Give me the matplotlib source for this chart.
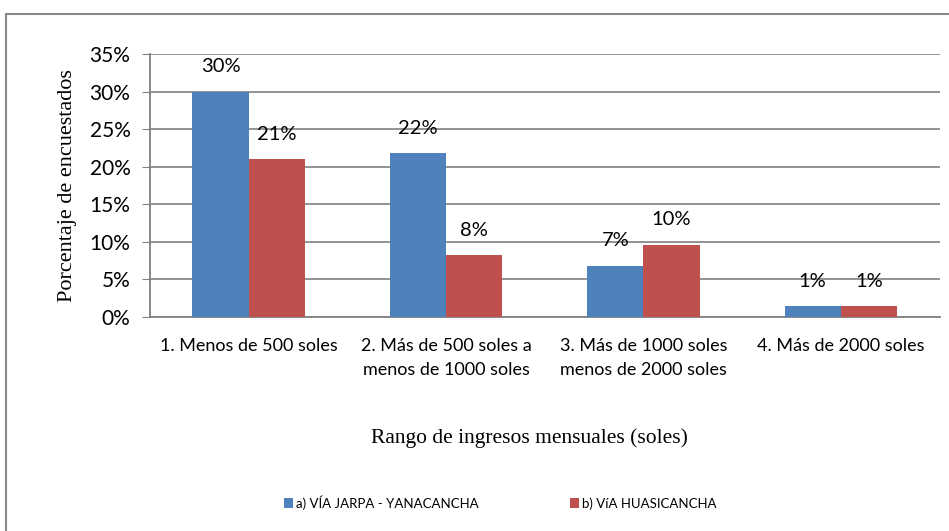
import matplotlib.pyplot as plt
from matplotlib.patches import Rectangle
from matplotlib.ticker import PercentFormatter
import numpy as np

# Data
categories = ['1. Menos de 500 soles', '2. Más de 500 soles a\nmenos de 1000 soles',
              '3. Más de 1000 soles\nmenos de 2000 soles', '4. Más de 2000 soles']
jarpa = [30.0, 21.8, 6.8, 1.4]
huasi = [21.0, 8.2, 9.6, 1.4]
jarpa_labels = ['30%', '22%', '7%', '1%']
huasi_labels = ['21%', '8%', '10%', '1%']
series_names = ['a) VÍA JARPA - YANACANCHA', 'b) VíA HUASICANCHA']

blue = '#4F81BD'
red = '#C0504D'
sans = ['Lato', 'DejaVu Sans']
serif = ['Liberation Serif', 'DejaVu Serif']

fig = plt.figure(figsize=(9.49, 5.31), dpi=100)
ax = fig.add_axes([0.158, 0.403, 0.832, 0.495])

x = np.arange(len(categories))
w = 0.285
b1 = ax.bar(x - w / 2, jarpa, w, color=blue, zorder=3)
b2 = ax.bar(x + w / 2, huasi, w, color=red, zorder=3)

for bars, labels in [(b1, jarpa_labels), (b2, huasi_labels)]:
    for bar, lab in zip(bars, labels):
        ax.annotate(lab, (bar.get_x() + bar.get_width() / 2, bar.get_height()),
                    xytext=(0, 12), textcoords='offset points', ha='center', va='bottom',
                    fontsize=14.5, family=sans)

ax.set_xlim(-0.5, 3.5)
ax.set_ylim(0, 35)
ax.set_yticks(range(0, 36, 5))
ax.yaxis.set_major_formatter(PercentFormatter(decimals=0))
ax.set_xticks(x)
ax.set_xticklabels(categories, fontsize=13, family=sans, linespacing=1.65)
ax.tick_params(axis='x', length=0, pad=15)
ax.tick_params(axis='y', labelsize=15, length=6, color='#808080', pad=8)
for lab in ax.get_yticklabels():
    lab.set_family(sans)

ax.grid(axis='y', color='#8a8a8a', linewidth=1.3, zorder=0)
for s in ['top', 'right']:
    ax.spines[s].set_visible(False)
for s in ['left', 'bottom']:
    ax.spines[s].set_color('#808080')
    ax.spines[s].set_linewidth(1.3)

ax.set_ylabel('Porcentaje de encuestados', fontsize=16, family=serif, labelpad=9)
fig.text(0.558, 0.175, 'Rango de ingresos mensuales (soles)', ha='center', va='center',
         fontsize=15.5, family=serif)

# legend
leg = fig.legend([b1, b2], series_names, loc='center', bbox_to_anchor=(0.527, 0.054),
                 ncol=2, frameon=False, handlelength=0.7, handleheight=0.7,
                 handletextpad=0.2, columnspacing=6.9, prop={'family': sans, 'size': 9.5})

# outer chart border
fig.patches.append(Rectangle((0.006, -0.01), 1.0, 0.983, transform=fig.transFigure,
                             fill=False, edgecolor='#888888', linewidth=1.5))

fig.savefig('out.png', dpi=100)
